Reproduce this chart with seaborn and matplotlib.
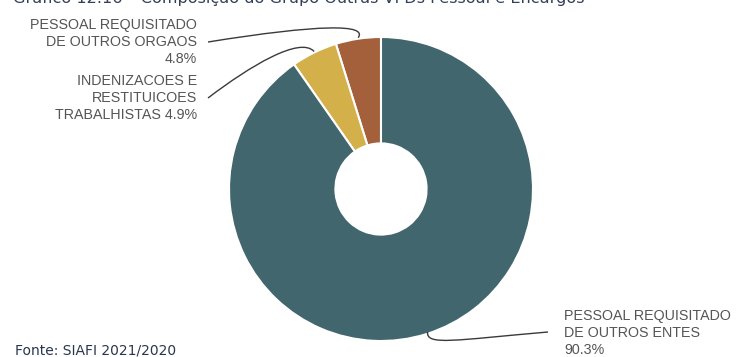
import numpy as np
import matplotlib
matplotlib.use("Agg")
import matplotlib.pyplot as plt
from matplotlib.path import Path
from matplotlib.patches import PathPatch
import seaborn as sns

# Composition of "Outras VPDs Pessoal e Encargos"
categories = [
    "PESSOAL REQUISITADO\nDE OUTROS ORGAOS",
    "INDENIZACOES E\nRESTITUICOES\nTRABALHISTAS",
    "PESSOAL REQUISITADO\nDE OUTROS ENTES",
]
shares = [4.8, 4.9, 90.3]
colors = ["#a3603a", "#d4b04b", "#41666e"]

title = "Gráfico 12.16 – Composição do Grupo Outras VPDs Pessoal e Encargos"
source = "Fonte: SIAFI 2021/2020"

sns.set_style("white")
plt.rcParams["font.family"] = ["DejaVu Sans"]

W, H = 738, 357
fig = plt.figure(figsize=(W / 100, H / 100), dpi=100)
ax = fig.add_axes([0, 0, 1, 1])

center = (381, H - 189)
radius = 152
wedges, _ = ax.pie(
    shares, colors=colors, startangle=90, counterclock=True,
    center=center, radius=radius, frame=True,
    wedgeprops=dict(width=radius * 0.70, edgecolor="white", linewidth=1.5),
)
ax.set_xlim(0, W)
ax.set_ylim(0, H)
ax.axis("off")


def mid_point(w):
    ang = np.deg2rad((w.theta1 + w.theta2) / 2)
    return (center[0] + radius * np.cos(ang), center[1] + radius * np.sin(ang))


lab_font = dict(family="Liberation Sans", fontsize=10.3, color="#555555", linespacing=1.3)

labels = [
    f"{categories[0]}\n{shares[0]:.1f}%",
    f"{categories[1]} {shares[1]:.1f}%",
    f"{categories[2]}\n{shares[2]:.1f}%",
]

# left labels, right-aligned
ax.text(197, H - 42, labels[0], ha="right", va="center", **lab_font)
ax.text(197, H - 98, labels[1], ha="right", va="center", **lab_font)
# right label, left-aligned
ax.text(564, H - 333, labels[2], ha="left", va="center", **lab_font)


def leader(p0, c1, c2, p3):
    path = Path([p0, c1, c2, p3], [Path.MOVETO, Path.CURVE4, Path.CURVE4, Path.CURVE4])
    ax.add_patch(PathPatch(path, fill=False, edgecolor="#3a3a3a", linewidth=1.0))


m0 = mid_point(wedges[0])
m1 = mid_point(wedges[1])
m2 = mid_point(wedges[2])
leader((208, H - 42), (320, H - 24), (368, H - 24), (m0[0], m0[1] + 1))
leader((208, H - 98), (250, H - 66), (300, H - 36), (m1[0], m1[1] + 1))
leader((m2[0] + 1, m2[1] + 2), (426, H - 346), (455, H - 340), (548, H - 332))

# title (clipped at the top edge) and source note
ax.text(13, H - 3.5, title, ha="left", va="baseline", fontsize=11.6, color="#34405a")
ax.text(15, H - 350, source, ha="left", va="center", fontsize=10, color="#2a3550")

fig.savefig("out.png", dpi=100, facecolor="white")
